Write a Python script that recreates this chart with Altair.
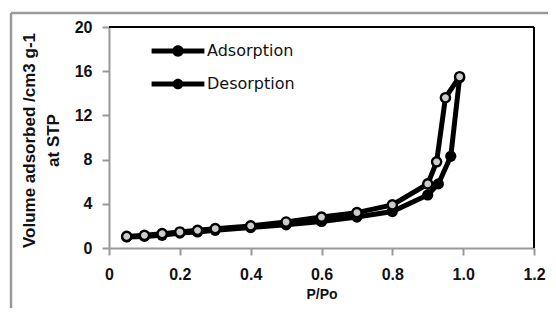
import altair as alt
import pandas as pd

# data
ads_x = [0.05, 0.10, 0.15, 0.20, 0.25, 0.30, 0.40, 0.50, 0.60, 0.70, 0.80, 0.90, 0.93, 0.965, 0.99]
ads_y = [1.00, 1.05, 1.15, 1.35, 1.45, 1.60, 1.85, 2.10, 2.40, 2.80, 3.30, 4.80, 5.80, 8.30, 15.4]
des_x = [0.99, 0.95, 0.925, 0.90, 0.80, 0.70, 0.60, 0.50, 0.40, 0.30, 0.25, 0.20, 0.15, 0.10, 0.05]
des_y = [15.5, 13.6, 7.80, 5.80, 3.90, 3.20, 2.80, 2.35, 2.00, 1.75, 1.60, 1.45, 1.30, 1.15, 1.05]
series_names = ["Adsorption", "Desorption"]
x_ticks = [0, 0.2, 0.4, 0.6, 0.8, 1.0, 1.2]
y_ticks = [0, 4, 8, 12, 16, 20]

ads = pd.DataFrame({"x": ads_x, "y": ads_y, "series": series_names[0], "i": range(len(ads_x))})
des = pd.DataFrame({"x": des_x, "y": des_y, "series": series_names[1], "i": range(len(des_x))})
df = pd.concat([ads, des], ignore_index=True)

TICK_FONT = "Liberation Sans"

xscale = alt.Scale(domain=[0, 1.2], nice=False, zero=False)
yscale = alt.Scale(domain=[0, 20], nice=False)

xenc = alt.X("x:Q", scale=xscale, axis=alt.Axis(
    values=x_ticks, title="P/Po", grid=False, domainColor="#999999", domainWidth=2,
    tickColor="#999999", tickWidth=2, tickSize=7, labelPadding=11, labelFlush=False,
    labelFont=TICK_FONT, labelFontSize=16, labelFontWeight="bold", labelColor="#111111",
    titleFont=TICK_FONT, titleFontSize=14, titleFontWeight="bold", titleColor="#111111",
    titlePadding=5, labelExpr="datum.value == 0 ? '0' : datum.label"))
yenc = alt.Y("y:Q", scale=yscale, axis=alt.Axis(
    values=y_ticks, title=["Volume adsorbed /cm3 g-1", "at STP"], grid=False,
    domainColor="#999999", domainWidth=2, tickColor="#999999", tickWidth=2, tickSize=7,
    labelPadding=10, labelFlush=False, labelFont=TICK_FONT, labelFontSize=16,
    labelFontWeight="bold", labelColor="#111111", titleFont=TICK_FONT, titleFontSize=17,
    titleFontWeight="bold", titleColor="#111111", titleLineHeight=24, titleAngle=-90,
    titleAlign="center", titleBaseline="bottom", titleX=-71, titleY=113))

base = alt.Chart(df)

lines = base.mark_line(color="black", strokeWidth=5).encode(
    x=xenc, y=yenc, detail="series:N", order="i:Q")

filled_pts = base.transform_filter(alt.datum.series == series_names[0]).mark_point(
    shape="circle", filled=True, color="black", size=125, opacity=1).encode(x="x:Q", y="y:Q")

open_pts = base.transform_filter(alt.datum.series == series_names[1]).mark_point(
    shape="circle", filled=True, fill="#cccccc", stroke="black", strokeWidth=2.4,
    size=85, opacity=1).encode(x="x:Q", y="y:Q")

# legend symbols: a thick line with a circle in the middle
sym_ads = ("M-3,-0.28L3,-0.28L3,0.28L-3,0.28Z "
           "M0,-0.65A0.65,0.65 0 1,1 0,0.65A0.65,0.65 0 1,1 0,-0.65Z")
sym_des = ("M-3,-0.28L3,-0.28L3,0.28L-3,0.28Z "
           "M0,-0.6A0.6,0.6 0 1,1 0,0.6A0.6,0.6 0 1,1 0,-0.6Z "
           "M0,-0.18A0.18,0.18 0 1,0 0,0.18A0.18,0.18 0 1,0 0,-0.18Z")

legend_layer = base.transform_filter(alt.datum.x < 0).mark_point(
    filled=True, color="black", opacity=1).encode(
    x="x:Q", y="y:Q",
    shape=alt.Shape("series:N", scale=alt.Scale(domain=series_names, range=[sym_ads, sym_des]),
                    legend=alt.Legend(title=None, orient="none", legendX=60, legendY=15,
                                      symbolSize=310, symbolFillColor="black",
                                      symbolStrokeColor="black", symbolStrokeWidth=0,
                                      symbolOpacity=1,
                                      labelOffset=20, rowPadding=16,
                                      labelFont="DejaVu Sans", labelFontSize=16,
                                      labelColor="#111111", labelLimit=300)))

frame_data = alt.Data(values=[{"a": 1}])
frame_left = alt.Chart(frame_data).mark_rule(color="#9a9a9a", strokeWidth=2.5).encode(
    x=alt.value(-98), y=alt.value(-14), y2=alt.value(310))
frame_top = alt.Chart(frame_data).mark_rule(color="#9a9a9a", strokeWidth=2.5).encode(
    x=alt.value(-98), x2=alt.value(450), y=alt.value(-14))
box_top = alt.Chart(frame_data).mark_rule(color="black", strokeWidth=2).encode(
    x=alt.value(0), x2=alt.value(425), y=alt.value(0))
box_right = alt.Chart(frame_data).mark_rule(color="black", strokeWidth=2).encode(
    x=alt.value(425), y=alt.value(0), y2=alt.value(221))

chart = alt.layer(
    frame_left, frame_top, box_top, box_right,
    lines, filled_pts, open_pts, legend_layer
).properties(
    width=425, height=221,
    autosize=alt.AutoSizeParams(type="none"),
    padding={"left": 101, "top": 19, "right": 14, "bottom": 60},
    background="white"
).configure_view(stroke=None)

chart.save("out.html", embed_options={"renderer": "svg", "actions": False})
